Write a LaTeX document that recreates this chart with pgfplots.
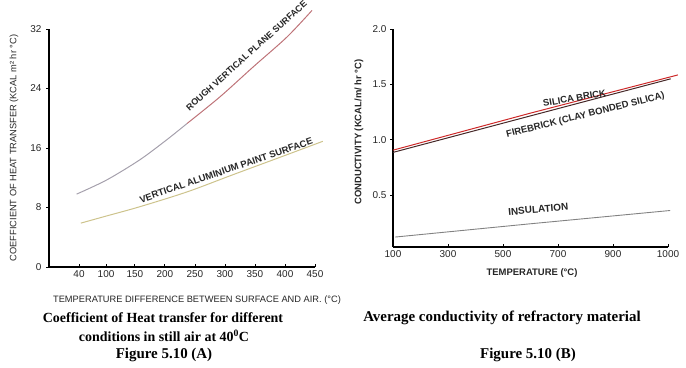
\documentclass[border=0pt]{standalone}
\usepackage{pgfplots}
\pgfplotsset{compat=1.18}
\usepackage{fontspec}
\setmainfont{Liberation Sans}
\newfontfamily\capfont{Liberation Serif}
\definecolor{roughlow}{RGB}{165,160,172}
\definecolor{roughhigh}{RGB}{190,115,120}
\definecolor{alum}{RGB}{205,195,140}
\definecolor{silica}{RGB}{205,40,40}
\definecolor{fire}{RGB}{70,40,40}
\definecolor{insul}{RGB}{130,130,130}
\begin{document}
\begin{tikzpicture}[x=1bp,y=1bp]
\path[use as bounding box] (0,0) rectangle (686,-367);
\pgfplotsset{
  every axis/.append style={
    scale only axis, clip=false,
    axis x line*=bottom, axis y line*=left,
    axis line style={black, line width=1.1pt},
    tick style={black, line width=0.8pt},
    major tick length=3pt,
    ticklabel style={font=\fontsize{10}{12}\selectfont, text=black!85},
    /pgf/number format/assume math mode=true,
  }
}
% Left chart
\begin{axis}[
  at={(49bp,-267bp)}, anchor=south west,
  width=266bp, height=238bp,
  xmin=7, xmax=450, ymin=0, ymax=32,
  xtick={57,102,150,200,250,300,350,400,450},
  xticklabels={40,100,150,200,250,300,350,400,450},
  ytick={0,8,16,24,32},
  xtick align=inside, ytick align=outside,
  yticklabel style={xshift=-1pt},
]
\addplot[roughlow, line width=1pt, smooth] coordinates {
  (53,9.8) (103,11.7) (158,14.4) (203,17.1) (237,19.3)};
\addplot[roughhigh, line width=1pt, smooth] coordinates {
  (237,19.3) (292,22.9) (347,26.9) (403,30.9) (445,34.5)};
\addplot[alum, line width=1pt, smooth] coordinates {
  (60,5.9) (100,6.8) (158,8.1) (237,10.1) (313,12.4) (390,14.7) (463,16.9)};
\node[rotate=42, font=\fontsize{9}{11}\selectfont\bfseries, text=black!85] at (axis cs:336,28.4) {ROUGH VERTICAL PLANE SURFACE};
\node[rotate=19, font=\fontsize{9.5}{11}\selectfont\bfseries, text=black!85] at (axis cs:302,13.0) {VERTICAL ALUMINIUM PAINT SURFACE};
\end{axis}
% Right chart
\begin{axis}[
  at={(393bp,-247bp)}, anchor=south west,
  width=275bp, height=218bp,
  xmin=0, xmax=5, ymin=0.03, ymax=2.0,
  xtick={0,1,2,3,4,5},
  xticklabels={100,300,500,700,900,1000},
  ytick={0.5,1,1.5,2},
  yticklabels={0.5,1.0,1.5,2.0},
  xtick align=inside, ytick align=outside,
]
\addplot[fire, line width=1pt] coordinates {(0,0.885) (2.5,1.215) (5.05,1.55)};
\addplot[silica, line width=1pt] coordinates {(0,0.905) (2.5,1.24) (5.18,1.585)};
\addplot[insul, line width=0.9pt] coordinates {(0.04,0.12) (2.5,0.24) (5.04,0.36)};
\node[rotate=10, font=\fontsize{9.5}{11}\selectfont\bfseries, text=black!85] at (axis cs:3.3,1.375) {SILICA BRICK};
\node[rotate=14, font=\fontsize{9.5}{11}\selectfont\bfseries, text=black!85] at (axis cs:3.5,1.22) {FIREBRICK (CLAY BONDED SILICA)};
\node[rotate=5, font=\fontsize{10}{11}\selectfont\bfseries, text=black!85] at (axis cs:2.64,0.37) {INSULATION};
\end{axis}
% axis labels
\node[rotate=90, font=\fontsize{9.3}{11}\selectfont, text=black!85] at (14,-148) {COEFFICIENT OF HEAT TRANSFER (KCAL m² hr °C)};
\node[font=\fontsize{9.3}{11}\selectfont, text=black!85] at (197,-300) {TEMPERATURE DIFFERENCE BETWEEN SURFACE AND AIR. (°C)};
\node[rotate=90, font=\fontsize{9.5}{11}\selectfont\bfseries, text=black!85] at (359,-132) {CONDUCTIVITY (KCAL/m/ hr °C)};
\node[font=\fontsize{9.5}{11}\selectfont\bfseries, text=black!85] at (532,-273) {TEMPERATURE (°C)};
% captions
\begin{scope}[every node/.style={font=\capfont\bfseries\fontsize{14}{16}\selectfont}]
\node at (163,-318) {Coefficient of Heat transfer for different};
\node at (164,-336) {conditions in still air at 40\textsuperscript{0}C};
\node[font=\capfont\bfseries\fontsize{15}{17}\selectfont] at (164,-355) {Figure 5.10 (A)};
\node[font=\capfont\bfseries\fontsize{15}{17}\selectfont] at (502,-318) {Average conductivity of refractory material};
\node[font=\capfont\bfseries\fontsize{15}{17}\selectfont] at (528,-355) {Figure 5.10 (B)};
\end{scope}
\end{tikzpicture}
\end{document}
